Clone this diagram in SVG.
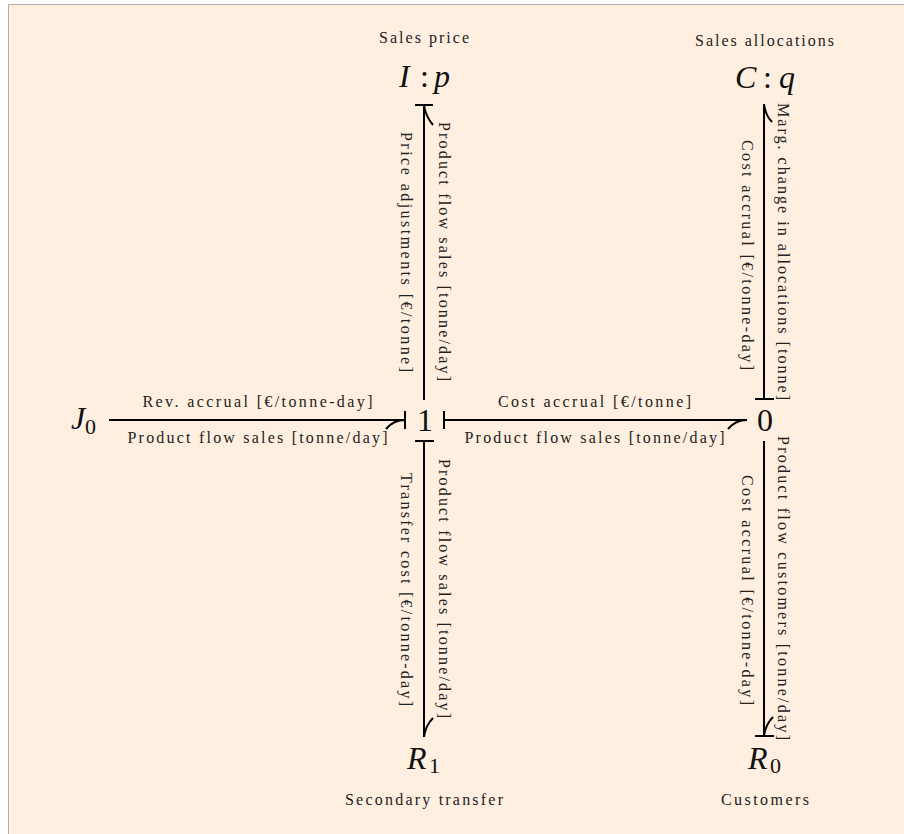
<svg xmlns="http://www.w3.org/2000/svg" width="904" height="834" viewBox="0 0 904 834">
<style>
.l{font-family:"Liberation Serif","Times New Roman",serif;font-size:16px;fill:#222}
.m{font-family:"Liberation Serif","Times New Roman",serif;font-size:32px;fill:#111}
.i{font-style:italic}
.s{font-size:22px}
.e{fill:none;stroke:#000;stroke-width:2}
</style>
<rect x="8.500" y="4.500" width="900" height="835" fill="#ffefe0" stroke="#b0b0b0" stroke-width="1"/>
<g id="connectors">
<g id="e-j0-1"><path class="e" d="M109 420H405M405 411V429M405 420C396 420 391 423 386 429"/></g>
<g id="e-0-1"><path class="e" d="M747 420H444M444 411V429M747 420C738 420 733 423 728 429"/></g>
<g id="e-1-I"><path class="e" d="M424 400V105M415 105H433M424 105C425 113 428 119 433 125"/></g>
<g id="e-0-C"><path class="e" d="M764 399V104M755 399H774M764 104C765 112 767 117 772 122"/></g>
<g id="e-1-R1"><path class="e" d="M424 737V441M415 441H434M424 737C425 729 428 723 433 718"/></g>
<g id="e-0-R0"><path class="e" d="M764 441V736M755 736H774M764 736C765 728 768 722 773 717"/></g>
</g>
<g id="edge-labels">
<text class="l" x="142.500" y="406.500" textLength="230" lengthAdjust="spacing">Rev. accrual [€/tonne-day]</text>
<text class="l" x="127.500" y="443" textLength="260" lengthAdjust="spacing">Product flow sales [tonne/day]</text>
<text class="l" x="498" y="406.500" textLength="193" lengthAdjust="spacing">Cost accrual [€/tonne]</text>
<text class="l" x="464.500" y="443" textLength="260" lengthAdjust="spacing">Product flow sales [tonne/day]</text>
<text class="l" transform="translate(401,132) rotate(90)" textLength="240" lengthAdjust="spacing">Price adjustments [€/tonne]</text>
<text class="l" transform="translate(439,122) rotate(90)" textLength="259" lengthAdjust="spacing">Product flow sales [tonne/day]</text>
<text class="l" transform="translate(741.500,140) rotate(90)" textLength="230" lengthAdjust="spacing">Cost accrual [€/tonne-day]</text>
<text class="l" transform="translate(778,103) rotate(90)" textLength="297" lengthAdjust="spacing">Marg. change in allocations [tonne]</text>
<text class="l" transform="translate(401,473) rotate(90)" textLength="233" lengthAdjust="spacing">Transfer cost [€/tonne-day]</text>
<text class="l" transform="translate(439,459) rotate(90)" textLength="259" lengthAdjust="spacing">Product flow sales [tonne/day]</text>
<text class="l" transform="translate(741.500,475) rotate(90)" textLength="230" lengthAdjust="spacing">Cost accrual [€/tonne-day]</text>
<text class="l" transform="translate(778,436) rotate(90)" textLength="304" lengthAdjust="spacing">Product flow customers [tonne/day]</text>
</g>
<g id="n-J0"><text class="m" x="71" y="429"><tspan class="i">J</tspan><tspan class="s" x="85" y="434">0</tspan></text></g>
<g id="n-1"><text class="m" x="417" y="431">1</text></g>
<g id="n-0"><text class="m" x="757" y="431">0</text></g>
<g id="n-I"><text class="l" x="379" y="43" textLength="90" lengthAdjust="spacing">Sales price</text><text class="m" y="87"><tspan class="i" x="399">I</tspan><tspan x="420">:</tspan><tspan class="i" x="434">p</tspan></text></g>
<g id="n-C"><text class="l" x="695" y="46" textLength="139" lengthAdjust="spacing">Sales allocations</text><text class="m" y="88"><tspan class="i" x="735">C</tspan><tspan x="763">:</tspan><tspan class="i" x="779">q</tspan></text></g>
<g id="n-R1"><text class="m" y="769"><tspan class="i" x="407">R</tspan><tspan class="s" x="429" y="773">1</tspan></text><text class="l" x="345" y="805" textLength="158" lengthAdjust="spacing">Secondary transfer</text></g>
<g id="n-R0"><text class="m" y="769"><tspan class="i" x="748">R</tspan><tspan class="s" x="770" y="773">0</tspan></text><text class="l" x="721" y="805" textLength="88" lengthAdjust="spacing">Customers</text></g>
</svg>
